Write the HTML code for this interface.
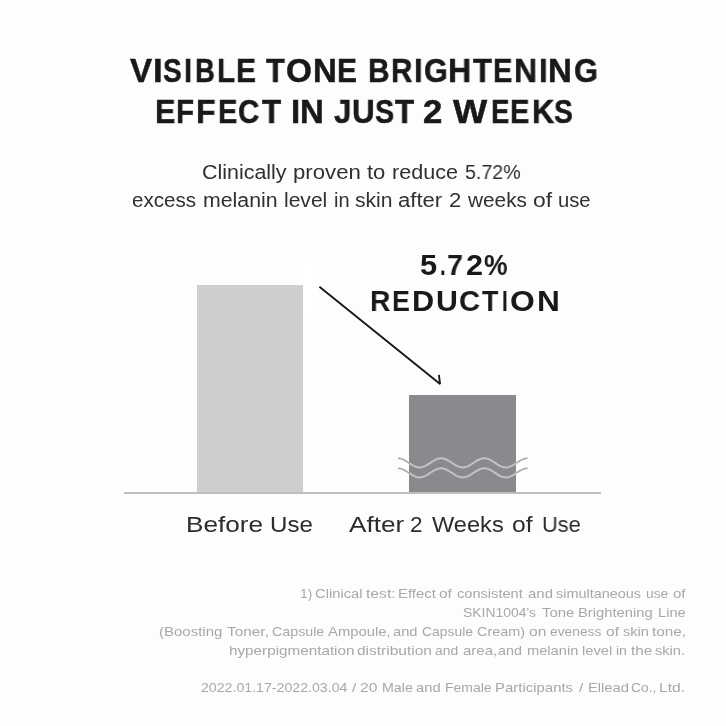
<!DOCTYPE html>
<html>
<head>
<meta charset="utf-8">
<style>
html,body{margin:0;padding:0;}
body{width:726px;height:726px;position:relative;overflow:hidden;background:#fdfdfd;font-family:"Liberation Sans",sans-serif;}
.t{position:absolute;white-space:nowrap;line-height:1;}
.t span{display:inline-block;transform-origin:0 0;will-change:transform;}
.ti{font-weight:bold;font-size:31px;color:#191919;-webkit-text-stroke:0.5px #191919;}
.sub{font-size:19.5px;color:#303030;}
.red{font-weight:bold;font-size:26px;color:#191919;}
.lab{font-size:21px;color:#2c2c2c;}
.fn{font-size:13px;color:#a8a8a8;}
.abs{position:absolute;}
</style>
</head>
<body>
<div class="abs" style="left:303.5px;top:258.3px;width:15.6px;height:53.5px;background:#fff;"></div>
<div class="abs" style="left:196.5px;top:285px;width:106.5px;height:207.5px;background:#cdcecf;"></div>
<div class="abs" style="left:409.3px;top:395.4px;width:107px;height:97px;background:#898a8e;"></div>
<div class="abs" style="left:123.7px;top:492px;width:477.8px;height:1.9px;background:#bdbdbd;"></div>

<svg class="abs" style="left:0;top:0" width="726" height="726" viewBox="0 0 726 726">
  <defs>
    <clipPath id="cin"><rect x="409.3" y="395.4" width="107" height="97"/></clipPath>
    <clipPath id="cout"><path d="M0 0H409.3V726H0Z M516.3 0H726V726H516.3Z"/></clipPath>
  </defs>
  <path d="M319.4 286.7 L440.4 384.2 M438.9 374.8 L440.1 384.2" stroke="#161616" stroke-width="1.85" fill="none"/>
  <g fill="none" stroke="#c1c3c5" stroke-width="2" clip-path="url(#cin)">
    <path d="M398.00 458.30 L399.00 458.35 L399.99 458.49 L400.99 458.72 L401.98 459.04 L402.98 459.45 L403.98 459.92 L404.97 460.45 L405.97 461.03 L406.97 461.66 L407.96 462.30 L408.96 462.96 L409.95 463.62 L410.95 464.26 L411.95 464.87 L412.94 465.44 L413.94 465.95 L414.93 466.40 L415.93 466.77 L416.93 467.07 L417.92 467.27 L418.92 467.38 L419.92 467.39 L420.91 467.31 L421.91 467.14 L422.90 466.88 L423.90 466.53 L424.90 466.10 L425.89 465.61 L426.89 465.05 L427.88 464.46 L428.88 463.82 L429.88 463.17 L430.87 462.51 L431.87 461.86 L432.87 461.23 L433.86 460.63 L434.86 460.08 L435.85 459.59 L436.85 459.16 L437.85 458.82 L438.84 458.55 L439.84 458.38 L440.83 458.30 L441.83 458.32 L442.83 458.43 L443.82 458.64 L444.82 458.93 L445.82 459.31 L446.81 459.76 L447.81 460.28 L448.80 460.85 L449.80 461.46 L450.80 462.10 L451.79 462.75 L452.79 463.41 L453.78 464.06 L454.78 464.68 L455.78 465.26 L456.77 465.80 L457.77 466.27 L458.77 466.66 L459.76 466.98 L460.76 467.21 L461.75 467.35 L462.75 467.40 L463.75 467.35 L464.74 467.21 L465.74 466.97 L466.73 466.65 L467.73 466.24 L468.73 465.77 L469.72 465.24 L470.72 464.65 L471.72 464.03 L472.71 463.38 L473.71 462.72 L474.70 462.06 L475.70 461.43 L476.70 460.82 L477.69 460.25 L478.69 459.74 L479.68 459.29 L480.68 458.92 L481.68 458.63 L482.67 458.43 L483.67 458.32 L484.67 458.31 L485.66 458.39 L486.66 458.57 L487.65 458.83 L488.65 459.18 L489.65 459.61 L490.64 460.11 L491.64 460.66 L492.63 461.26 L493.63 461.89 L494.63 462.55 L495.62 463.20 L496.62 463.86 L497.62 464.49 L498.61 465.08 L499.61 465.63 L500.60 466.12 L501.60 466.55 L502.60 466.89 L503.59 467.15 L504.59 467.32 L505.58 467.40 L506.58 467.38 L507.58 467.26 L508.57 467.05 L509.57 466.76 L510.57 466.38 L511.56 465.93 L512.56 465.41 L513.55 464.84 L514.55 464.23 L515.55 463.59 L516.54 462.93 L517.54 462.27 L518.53 461.62 L519.53 461.00 L520.53 460.42 L521.52 459.89 L522.52 459.42 L523.52 459.03 L524.51 458.71 L525.51 458.48 L526.50 458.34 L527.50 458.30"/><path d="M398.00 468.30 L399.00 468.35 L399.99 468.49 L400.99 468.72 L401.98 469.04 L402.98 469.45 L403.98 469.92 L404.97 470.45 L405.97 471.03 L406.97 471.66 L407.96 472.30 L408.96 472.96 L409.95 473.62 L410.95 474.26 L411.95 474.87 L412.94 475.44 L413.94 475.95 L414.93 476.40 L415.93 476.77 L416.93 477.07 L417.92 477.27 L418.92 477.38 L419.92 477.39 L420.91 477.31 L421.91 477.14 L422.90 476.88 L423.90 476.53 L424.90 476.10 L425.89 475.61 L426.89 475.05 L427.88 474.46 L428.88 473.82 L429.88 473.17 L430.87 472.51 L431.87 471.86 L432.87 471.23 L433.86 470.63 L434.86 470.08 L435.85 469.59 L436.85 469.16 L437.85 468.82 L438.84 468.55 L439.84 468.38 L440.83 468.30 L441.83 468.32 L442.83 468.43 L443.82 468.64 L444.82 468.93 L445.82 469.31 L446.81 469.76 L447.81 470.28 L448.80 470.85 L449.80 471.46 L450.80 472.10 L451.79 472.75 L452.79 473.41 L453.78 474.06 L454.78 474.68 L455.78 475.26 L456.77 475.80 L457.77 476.27 L458.77 476.66 L459.76 476.98 L460.76 477.21 L461.75 477.35 L462.75 477.40 L463.75 477.35 L464.74 477.21 L465.74 476.97 L466.73 476.65 L467.73 476.24 L468.73 475.77 L469.72 475.24 L470.72 474.65 L471.72 474.03 L472.71 473.38 L473.71 472.72 L474.70 472.06 L475.70 471.43 L476.70 470.82 L477.69 470.25 L478.69 469.74 L479.68 469.29 L480.68 468.92 L481.68 468.63 L482.67 468.43 L483.67 468.32 L484.67 468.31 L485.66 468.39 L486.66 468.57 L487.65 468.83 L488.65 469.18 L489.65 469.61 L490.64 470.11 L491.64 470.66 L492.63 471.26 L493.63 471.89 L494.63 472.55 L495.62 473.20 L496.62 473.86 L497.62 474.49 L498.61 475.08 L499.61 475.63 L500.60 476.12 L501.60 476.55 L502.60 476.89 L503.59 477.15 L504.59 477.32 L505.58 477.40 L506.58 477.38 L507.58 477.26 L508.57 477.05 L509.57 476.76 L510.57 476.38 L511.56 475.93 L512.56 475.41 L513.55 474.84 L514.55 474.23 L515.55 473.59 L516.54 472.93 L517.54 472.27 L518.53 471.62 L519.53 471.00 L520.53 470.42 L521.52 469.89 L522.52 469.42 L523.52 469.03 L524.51 468.71 L525.51 468.48 L526.50 468.34 L527.50 468.30"/>
  </g>
  <g fill="none" stroke="#a8a8a8" stroke-width="1.6" clip-path="url(#cout)">
    <path d="M398.00 458.30 L399.00 458.35 L399.99 458.49 L400.99 458.72 L401.98 459.04 L402.98 459.45 L403.98 459.92 L404.97 460.45 L405.97 461.03 L406.97 461.66 L407.96 462.30 L408.96 462.96 L409.95 463.62 L410.95 464.26 L411.95 464.87 L412.94 465.44 L413.94 465.95 L414.93 466.40 L415.93 466.77 L416.93 467.07 L417.92 467.27 L418.92 467.38 L419.92 467.39 L420.91 467.31 L421.91 467.14 L422.90 466.88 L423.90 466.53 L424.90 466.10 L425.89 465.61 L426.89 465.05 L427.88 464.46 L428.88 463.82 L429.88 463.17 L430.87 462.51 L431.87 461.86 L432.87 461.23 L433.86 460.63 L434.86 460.08 L435.85 459.59 L436.85 459.16 L437.85 458.82 L438.84 458.55 L439.84 458.38 L440.83 458.30 L441.83 458.32 L442.83 458.43 L443.82 458.64 L444.82 458.93 L445.82 459.31 L446.81 459.76 L447.81 460.28 L448.80 460.85 L449.80 461.46 L450.80 462.10 L451.79 462.75 L452.79 463.41 L453.78 464.06 L454.78 464.68 L455.78 465.26 L456.77 465.80 L457.77 466.27 L458.77 466.66 L459.76 466.98 L460.76 467.21 L461.75 467.35 L462.75 467.40 L463.75 467.35 L464.74 467.21 L465.74 466.97 L466.73 466.65 L467.73 466.24 L468.73 465.77 L469.72 465.24 L470.72 464.65 L471.72 464.03 L472.71 463.38 L473.71 462.72 L474.70 462.06 L475.70 461.43 L476.70 460.82 L477.69 460.25 L478.69 459.74 L479.68 459.29 L480.68 458.92 L481.68 458.63 L482.67 458.43 L483.67 458.32 L484.67 458.31 L485.66 458.39 L486.66 458.57 L487.65 458.83 L488.65 459.18 L489.65 459.61 L490.64 460.11 L491.64 460.66 L492.63 461.26 L493.63 461.89 L494.63 462.55 L495.62 463.20 L496.62 463.86 L497.62 464.49 L498.61 465.08 L499.61 465.63 L500.60 466.12 L501.60 466.55 L502.60 466.89 L503.59 467.15 L504.59 467.32 L505.58 467.40 L506.58 467.38 L507.58 467.26 L508.57 467.05 L509.57 466.76 L510.57 466.38 L511.56 465.93 L512.56 465.41 L513.55 464.84 L514.55 464.23 L515.55 463.59 L516.54 462.93 L517.54 462.27 L518.53 461.62 L519.53 461.00 L520.53 460.42 L521.52 459.89 L522.52 459.42 L523.52 459.03 L524.51 458.71 L525.51 458.48 L526.50 458.34 L527.50 458.30"/><path d="M398.00 468.30 L399.00 468.35 L399.99 468.49 L400.99 468.72 L401.98 469.04 L402.98 469.45 L403.98 469.92 L404.97 470.45 L405.97 471.03 L406.97 471.66 L407.96 472.30 L408.96 472.96 L409.95 473.62 L410.95 474.26 L411.95 474.87 L412.94 475.44 L413.94 475.95 L414.93 476.40 L415.93 476.77 L416.93 477.07 L417.92 477.27 L418.92 477.38 L419.92 477.39 L420.91 477.31 L421.91 477.14 L422.90 476.88 L423.90 476.53 L424.90 476.10 L425.89 475.61 L426.89 475.05 L427.88 474.46 L428.88 473.82 L429.88 473.17 L430.87 472.51 L431.87 471.86 L432.87 471.23 L433.86 470.63 L434.86 470.08 L435.85 469.59 L436.85 469.16 L437.85 468.82 L438.84 468.55 L439.84 468.38 L440.83 468.30 L441.83 468.32 L442.83 468.43 L443.82 468.64 L444.82 468.93 L445.82 469.31 L446.81 469.76 L447.81 470.28 L448.80 470.85 L449.80 471.46 L450.80 472.10 L451.79 472.75 L452.79 473.41 L453.78 474.06 L454.78 474.68 L455.78 475.26 L456.77 475.80 L457.77 476.27 L458.77 476.66 L459.76 476.98 L460.76 477.21 L461.75 477.35 L462.75 477.40 L463.75 477.35 L464.74 477.21 L465.74 476.97 L466.73 476.65 L467.73 476.24 L468.73 475.77 L469.72 475.24 L470.72 474.65 L471.72 474.03 L472.71 473.38 L473.71 472.72 L474.70 472.06 L475.70 471.43 L476.70 470.82 L477.69 470.25 L478.69 469.74 L479.68 469.29 L480.68 468.92 L481.68 468.63 L482.67 468.43 L483.67 468.32 L484.67 468.31 L485.66 468.39 L486.66 468.57 L487.65 468.83 L488.65 469.18 L489.65 469.61 L490.64 470.11 L491.64 470.66 L492.63 471.26 L493.63 471.89 L494.63 472.55 L495.62 473.20 L496.62 473.86 L497.62 474.49 L498.61 475.08 L499.61 475.63 L500.60 476.12 L501.60 476.55 L502.60 476.89 L503.59 477.15 L504.59 477.32 L505.58 477.40 L506.58 477.38 L507.58 477.26 L508.57 477.05 L509.57 476.76 L510.57 476.38 L511.56 475.93 L512.56 475.41 L513.55 474.84 L514.55 474.23 L515.55 473.59 L516.54 472.93 L517.54 472.27 L518.53 471.62 L519.53 471.00 L520.53 470.42 L521.52 469.89 L522.52 469.42 L523.52 469.03 L524.51 468.71 L525.51 468.48 L526.50 468.34 L527.50 468.30"/>
  </g>
</svg>

<div class="t ti" id="title1_0" style="left:129.72px;top:54.30px;font-size:33.00px;"><span style="transform:scaleX(1.0050)">V</span></div>
<div class="t ti" id="title1_1" style="left:153.44px;top:54.30px;font-size:33.00px;"><span style="transform:scaleX(1.0498)">I</span></div>
<div class="t ti" id="title1_2" style="left:163.11px;top:54.30px;font-size:33.00px;"><span style="transform:scaleX(0.8461)">S</span></div>
<div class="t ti" id="title1_3" style="left:183.58px;top:54.30px;font-size:33.00px;"><span style="transform:scaleX(0.8843)">I</span></div>
<div class="t ti" id="title1_4" style="left:195.35px;top:54.30px;font-size:33.00px;"><span style="transform:scaleX(0.8315)">B</span></div>
<div class="t ti" id="title1_5" style="left:217.41px;top:54.30px;font-size:33.00px;"><span style="transform:scaleX(0.8958)">L</span></div>
<div class="t ti" id="title1_6" style="left:235.74px;top:54.30px;font-size:33.00px;"><span style="transform:scaleX(0.9106)">E</span></div>
<div class="t ti" id="title1_7" style="left:266.00px;top:54.30px;font-size:33.00px;"><span style="transform:scaleX(0.9351)">T</span></div>
<div class="t ti" id="title1_8" style="left:286.28px;top:54.30px;font-size:33.00px;"><span style="transform:scaleX(1.0088)">O</span></div>
<div class="t ti" id="title1_9" style="left:313.40px;top:54.30px;font-size:33.00px;"><span style="transform:scaleX(1.0000)">N</span></div>
<div class="t ti" id="title1_10" style="left:337.29px;top:54.30px;font-size:33.00px;"><span style="transform:scaleX(0.9061)">E</span></div>
<div class="t ti" id="title1_11" style="left:367.92px;top:54.30px;font-size:33.00px;"><span style="transform:scaleX(0.9007)">B</span></div>
<div class="t ti" id="title1_12" style="left:391.39px;top:54.30px;font-size:33.00px;"><span style="transform:scaleX(0.8960)">R</span></div>
<div class="t ti" id="title1_13" style="left:413.83px;top:54.30px;font-size:33.00px;"><span style="transform:scaleX(0.9412)">I</span></div>
<div class="t ti" id="title1_14" style="left:423.75px;top:54.30px;font-size:33.00px;"><span style="transform:scaleX(0.9262)">G</span></div>
<div class="t ti" id="title1_15" style="left:448.10px;top:54.30px;font-size:33.00px;"><span style="transform:scaleX(0.9756)">H</span></div>
<div class="t ti" id="title1_16" style="left:472.82px;top:54.30px;font-size:33.00px;"><span style="transform:scaleX(0.9407)">T</span></div>
<div class="t ti" id="title1_17" style="left:492.51px;top:54.30px;font-size:33.00px;"><span style="transform:scaleX(0.8791)">E</span></div>
<div class="t ti" id="title1_18" style="left:513.72px;top:54.30px;font-size:33.00px;"><span style="transform:scaleX(0.9703)">N</span></div>
<div class="t ti" id="title1_19" style="left:538.77px;top:54.30px;font-size:33.00px;"><span style="transform:scaleX(0.9412)">I</span></div>
<div class="t ti" id="title1_20" style="left:548.48px;top:54.30px;font-size:33.00px;"><span style="transform:scaleX(0.9812)">N</span></div>
<div class="t ti" id="title1_21" style="left:573.71px;top:54.30px;font-size:33.00px;"><span style="transform:scaleX(0.9354)">G</span></div>
<div class="t ti" id="title2_0" style="left:154.58px;top:94.71px;font-size:33.00px;"><span style="transform:scaleX(0.9268)">E</span></div>
<div class="t ti" id="title2_1" style="left:176.41px;top:94.71px;font-size:33.00px;"><span style="transform:scaleX(0.8892)">F</span></div>
<div class="t ti" id="title2_2" style="left:195.81px;top:94.71px;font-size:33.00px;"><span style="transform:scaleX(0.9715)">F</span></div>
<div class="t ti" id="title2_3" style="left:217.77px;top:94.71px;font-size:33.00px;"><span style="transform:scaleX(0.8791)">E</span></div>
<div class="t ti" id="title2_4" style="left:237.57px;top:94.71px;font-size:33.00px;"><span style="transform:scaleX(0.8921)">C</span></div>
<div class="t ti" id="title2_5" style="left:262.00px;top:94.71px;font-size:33.00px;"><span style="transform:scaleX(0.9500)">T</span></div>
<div class="t ti" id="title2_6" style="left:290.50px;top:94.71px;font-size:33.00px;"><span style="transform:scaleX(1.0000)">I</span></div>
<div class="t ti" id="title2_7" style="left:300.02px;top:94.71px;font-size:33.00px;"><span style="transform:scaleX(0.9959)">N</span></div>
<div class="t ti" id="title2_8" style="left:333.64px;top:94.71px;font-size:33.00px;"><span style="transform:scaleX(0.9485)">J</span></div>
<div class="t ti" id="title2_9" style="left:352.17px;top:94.71px;font-size:33.00px;"><span style="transform:scaleX(0.9524)">U</span></div>
<div class="t ti" id="title2_10" style="left:375.00px;top:94.71px;font-size:33.00px;"><span style="transform:scaleX(0.8703)">S</span></div>
<div class="t ti" id="title2_11" style="left:395.20px;top:94.71px;font-size:33.00px;"><span style="transform:scaleX(0.9500)">T</span></div>
<div class="t ti" id="title2_12" style="left:423.48px;top:94.71px;font-size:33.00px;"><span style="transform:scaleX(1.0539)">2</span></div>
<div class="t ti" id="title2_13" style="left:453.27px;top:94.71px;font-size:33.00px;"><span style="transform:scaleX(1.0972)">W</span></div>
<div class="t ti" id="title2_14" style="left:490.64px;top:94.71px;font-size:33.00px;"><span style="transform:scaleX(0.8330)">E</span></div>
<div class="t ti" id="title2_15" style="left:510.45px;top:94.71px;font-size:33.00px;"><span style="transform:scaleX(0.8791)">E</span></div>
<div class="t ti" id="title2_16" style="left:531.77px;top:94.71px;font-size:33.00px;"><span style="transform:scaleX(0.9367)">K</span></div>
<div class="t ti" id="title2_17" style="left:554.25px;top:94.71px;font-size:33.00px;"><span style="transform:scaleX(0.8562)">S</span></div>
<div class="t sub" id="sub1_0" style="left:201.99px;top:162.00px;font-size:20.00px;"><span style="transform:scaleX(1.0719)">Clinically</span></div>
<div class="t sub" id="sub1_1" style="left:292.75px;top:162.00px;font-size:20.00px;"><span style="transform:scaleX(1.1085)">proven</span></div>
<div class="t sub" id="sub1_2" style="left:367.00px;top:162.00px;font-size:20.00px;"><span style="transform:scaleX(1.1017)">to</span></div>
<div class="t sub" id="sub1_3" style="left:392.43px;top:162.00px;font-size:20.00px;"><span style="transform:scaleX(1.0781)">reduce</span></div>
<div class="t sub" id="sub1_4" style="left:464.96px;top:162.00px;font-size:20.00px;"><span style="transform:scaleX(0.9801)">5.72%</span></div>
<div class="t sub" id="sub2_0" style="left:131.94px;top:189.71px;font-size:20.00px;"><span style="transform:scaleX(1.0295)">excess</span></div>
<div class="t sub" id="sub2_1" style="left:203.05px;top:189.71px;font-size:20.00px;"><span style="transform:scaleX(1.0648)">melanin</span></div>
<div class="t sub" id="sub2_2" style="left:283.90px;top:189.71px;font-size:20.00px;"><span style="transform:scaleX(1.0513)">level</span></div>
<div class="t sub" id="sub2_3" style="left:333.80px;top:189.71px;font-size:20.00px;"><span style="transform:scaleX(1.0000)">in</span></div>
<div class="t sub" id="sub2_4" style="left:354.64px;top:189.71px;font-size:20.00px;"><span style="transform:scaleX(1.0533)">skin</span></div>
<div class="t sub" id="sub2_5" style="left:398.17px;top:189.71px;font-size:20.00px;"><span style="transform:scaleX(1.1053)">after</span></div>
<div class="t sub" id="sub2_6" style="left:449.14px;top:189.71px;font-size:20.00px;"><span style="transform:scaleX(1.1037)">2</span></div>
<div class="t sub" id="sub2_7" style="left:467.60px;top:189.71px;font-size:20.00px;"><span style="transform:scaleX(1.0394)">weeks</span></div>
<div class="t sub" id="sub2_8" style="left:533.07px;top:189.71px;font-size:20.00px;"><span style="transform:scaleX(1.1439)">of</span></div>
<div class="t sub" id="sub2_9" style="left:558.38px;top:189.71px;font-size:20.00px;"><span style="transform:scaleX(1.0107)">use</span></div>
<div class="t red" id="red1_0" style="left:419.67px;top:250.40px;font-size:30.00px;"><span style="transform:scaleX(1.0271)">5</span></div>
<div class="t red" id="red1_1" style="left:439.83px;top:250.40px;font-size:30.00px;"><span style="transform:scaleX(0.6859)">.</span></div>
<div class="t red" id="red1_2" style="left:447.19px;top:250.40px;font-size:30.00px;"><span style="transform:scaleX(0.9605)">7</span></div>
<div class="t red" id="red1_3" style="left:466.26px;top:250.40px;font-size:30.00px;"><span style="transform:scaleX(1.0202)">2</span></div>
<div class="t red" id="red1_4" style="left:483.83px;top:250.40px;font-size:30.00px;"><span style="transform:scaleX(0.8845)">%</span></div>
<div class="t red" id="red2_0" style="left:370.27px;top:285.80px;font-size:30.30px;"><span style="transform:scaleX(0.9317)">R</span></div>
<div class="t red" id="red2_1" style="left:392.49px;top:285.80px;font-size:30.30px;"><span style="transform:scaleX(0.8824)">E</span></div>
<div class="t red" id="red2_2" style="left:412.37px;top:285.80px;font-size:30.30px;"><span style="transform:scaleX(1.0113)">D</span></div>
<div class="t red" id="red2_3" style="left:435.99px;top:285.80px;font-size:30.30px;"><span style="transform:scaleX(0.9793)">U</span></div>
<div class="t red" id="red2_4" style="left:458.59px;top:285.80px;font-size:30.30px;"><span style="transform:scaleX(0.9651)">C</span></div>
<div class="t red" id="red2_5" style="left:481.80px;top:285.80px;font-size:30.30px;"><span style="transform:scaleX(0.8793)">T</span></div>
<div class="t red" id="red2_6" style="left:502.43px;top:285.80px;font-size:30.30px;"><span style="transform:scaleX(0.6859)">I</span></div>
<div class="t red" id="red2_7" style="left:510.31px;top:285.80px;font-size:30.30px;"><span style="transform:scaleX(1.0507)">O</span></div>
<div class="t red" id="red2_8" style="left:536.65px;top:285.80px;font-size:30.30px;"><span style="transform:scaleX(1.0452)">N</span></div>
<div class="t lab" id="lab1_0" style="left:185.67px;top:513.71px;font-size:22.50px;"><span style="transform:scaleX(1.1622)">Before</span></div>
<div class="t lab" id="lab1_1" style="left:269.82px;top:513.71px;font-size:22.50px;"><span style="transform:scaleX(1.0715)">Use</span></div>
<div class="t lab" id="lab2_0" style="left:348.81px;top:513.71px;font-size:22.50px;"><span style="transform:scaleX(1.1597)">After</span></div>
<div class="t lab" id="lab2_1" style="left:410.32px;top:513.71px;font-size:22.50px;"><span style="transform:scaleX(0.9843)">2</span></div>
<div class="t lab" id="lab2_2" style="left:432.40px;top:513.71px;font-size:22.50px;"><span style="transform:scaleX(1.0486)">Weeks</span></div>
<div class="t lab" id="lab2_3" style="left:511.81px;top:513.71px;font-size:22.50px;"><span style="transform:scaleX(1.0946)">of</span></div>
<div class="t lab" id="lab2_4" style="left:542.46px;top:513.71px;font-size:22.50px;"><span style="transform:scaleX(0.9687)">Use</span></div>
<div class="t fn" id="fn1_0" style="left:299.95px;top:586.71px;font-size:13.40px;"><span style="transform:scaleX(1.0300)">1)</span></div>
<div class="t fn" id="fn1_1" style="left:314.62px;top:586.71px;font-size:13.40px;"><span style="transform:scaleX(1.1026)">Clinical</span></div>
<div class="t fn" id="fn1_2" style="left:365.84px;top:586.71px;font-size:13.40px;"><span style="transform:scaleX(1.1700)">test:</span></div>
<div class="t fn" id="fn1_3" style="left:397.94px;top:586.71px;font-size:13.40px;"><span style="transform:scaleX(1.1122)">Effect</span></div>
<div class="t fn" id="fn1_4" style="left:439.09px;top:586.71px;font-size:13.40px;"><span style="transform:scaleX(1.1522)">of</span></div>
<div class="t fn" id="fn1_5" style="left:456.79px;top:586.71px;font-size:13.40px;"><span style="transform:scaleX(1.0915)">consistent</span></div>
<div class="t fn" id="fn1_6" style="left:527.94px;top:586.71px;font-size:13.40px;"><span style="transform:scaleX(1.1165)">and</span></div>
<div class="t fn" id="fn1_7" style="left:555.99px;top:586.71px;font-size:13.40px;"><span style="transform:scaleX(1.0767)">simultaneous</span></div>
<div class="t fn" id="fn1_8" style="left:646.06px;top:586.71px;font-size:13.40px;"><span style="transform:scaleX(1.0300)">use</span></div>
<div class="t fn" id="fn1_9" style="left:672.58px;top:586.71px;font-size:13.40px;"><span style="transform:scaleX(1.1224)">of</span></div>
<div class="t fn" id="fn2_0" style="left:462.63px;top:605.71px;font-size:13.40px;"><span style="transform:scaleX(1.0392)">SKIN1004's</span></div>
<div class="t fn" id="fn2_1" style="left:541.62px;top:605.71px;font-size:13.40px;"><span style="transform:scaleX(1.1146)">Tone</span></div>
<div class="t fn" id="fn2_2" style="left:577.94px;top:605.71px;font-size:13.40px;"><span style="transform:scaleX(1.1015)">Brightening</span></div>
<div class="t fn" id="fn2_3" style="left:657.80px;top:605.71px;font-size:13.40px;"><span style="transform:scaleX(1.0934)">Line</span></div>
<div class="t fn" id="fn3_0" style="left:158.94px;top:624.71px;font-size:13.40px;"><span style="transform:scaleX(1.1206)">(Boosting</span></div>
<div class="t fn" id="fn3_1" style="left:226.81px;top:624.71px;font-size:13.40px;"><span style="transform:scaleX(1.1488)">Toner,</span></div>
<div class="t fn" id="fn3_2" style="left:272.14px;top:624.71px;font-size:13.40px;"><span style="transform:scaleX(1.0638)">Capsule</span></div>
<div class="t fn" id="fn3_3" style="left:327.60px;top:624.71px;font-size:13.40px;"><span style="transform:scaleX(1.1091)">Ampoule,</span></div>
<div class="t fn" id="fn3_4" style="left:392.79px;top:624.71px;font-size:13.40px;"><span style="transform:scaleX(1.0958)">and</span></div>
<div class="t fn" id="fn3_5" style="left:422.19px;top:624.71px;font-size:13.40px;"><span style="transform:scaleX(1.0385)">Capsule</span></div>
<div class="t fn" id="fn3_6" style="left:477.11px;top:624.71px;font-size:13.40px;"><span style="transform:scaleX(1.0793)">Cream)</span></div>
<div class="t fn" id="fn3_7" style="left:529.30px;top:624.71px;font-size:13.40px;"><span style="transform:scaleX(1.1700)">on</span></div>
<div class="t fn" id="fn3_8" style="left:550.29px;top:624.71px;font-size:13.40px;"><span style="transform:scaleX(1.0300)">eveness</span></div>
<div class="t fn" id="fn3_9" style="left:606.07px;top:624.71px;font-size:13.40px;"><span style="transform:scaleX(1.1700)">of</span></div>
<div class="t fn" id="fn3_10" style="left:622.66px;top:624.71px;font-size:13.40px;"><span style="transform:scaleX(1.0909)">skin</span></div>
<div class="t fn" id="fn3_11" style="left:651.90px;top:624.71px;font-size:13.40px;"><span style="transform:scaleX(1.1410)">tone,</span></div>
<div class="t fn" id="fn4_0" style="left:228.90px;top:643.50px;font-size:13.40px;"><span style="transform:scaleX(1.1389)">hyperpigmentation</span></div>
<div class="t fn" id="fn4_1" style="left:357.04px;top:643.50px;font-size:13.40px;"><span style="transform:scaleX(1.1572)">distribution</span></div>
<div class="t fn" id="fn4_2" style="left:435.01px;top:643.50px;font-size:13.40px;"><span style="transform:scaleX(1.0349)">and</span></div>
<div class="t fn" id="fn4_3" style="left:462.57px;top:643.50px;font-size:13.40px;"><span style="transform:scaleX(1.1186)">area,</span></div>
<div class="t fn" id="fn4_4" style="left:498.44px;top:643.50px;font-size:13.40px;"><span style="transform:scaleX(1.0703)">and</span></div>
<div class="t fn" id="fn4_5" style="left:527.05px;top:643.50px;font-size:13.40px;"><span style="transform:scaleX(1.0935)">melanin</span></div>
<div class="t fn" id="fn4_6" style="left:581.67px;top:643.50px;font-size:13.40px;"><span style="transform:scaleX(1.0998)">level</span></div>
<div class="t fn" id="fn4_7" style="left:615.60px;top:643.50px;font-size:13.40px;"><span style="transform:scaleX(1.0466)">in</span></div>
<div class="t fn" id="fn4_8" style="left:630.69px;top:643.50px;font-size:13.40px;"><span style="transform:scaleX(1.1416)">the</span></div>
<div class="t fn" id="fn4_9" style="left:655.40px;top:643.50px;font-size:13.40px;"><span style="transform:scaleX(1.0884)">skin.</span></div>
<div class="t fn" id="fn5_0" style="left:200.76px;top:681.30px;font-size:13.40px;"><span style="transform:scaleX(1.0570)">2022.01.17-2022.03.04</span></div>
<div class="t fn" id="fn5_1" style="left:351.93px;top:681.30px;font-size:13.40px;"><span style="transform:scaleX(1.1500)">/</span></div>
<div class="t fn" id="fn5_2" style="left:360.42px;top:681.30px;font-size:13.40px;"><span style="transform:scaleX(1.1700)">20</span></div>
<div class="t fn" id="fn5_3" style="left:382.12px;top:681.30px;font-size:13.40px;"><span style="transform:scaleX(1.0630)">Male</span></div>
<div class="t fn" id="fn5_4" style="left:416.14px;top:681.30px;font-size:13.40px;"><span style="transform:scaleX(1.1021)">and</span></div>
<div class="t fn" id="fn5_5" style="left:444.78px;top:681.30px;font-size:13.40px;"><span style="transform:scaleX(1.0444)">Female</span></div>
<div class="t fn" id="fn5_6" style="left:495.33px;top:681.30px;font-size:13.40px;"><span style="transform:scaleX(1.1163)">Participants</span></div>
<div class="t fn" id="fn5_7" style="left:578.62px;top:681.30px;font-size:13.40px;"><span style="transform:scaleX(1.1500)">/</span></div>
<div class="t fn" id="fn5_8" style="left:587.98px;top:681.30px;font-size:13.40px;"><span style="transform:scaleX(1.1002)">Ellead</span></div>
<div class="t fn" id="fn5_9" style="left:630.57px;top:681.30px;font-size:13.40px;"><span style="transform:scaleX(1.0300)">Co.,</span></div>
<div class="t fn" id="fn5_10" style="left:658.82px;top:681.30px;font-size:13.40px;"><span style="transform:scaleX(1.1700)">Ltd.</span></div>
</body>
</html>
